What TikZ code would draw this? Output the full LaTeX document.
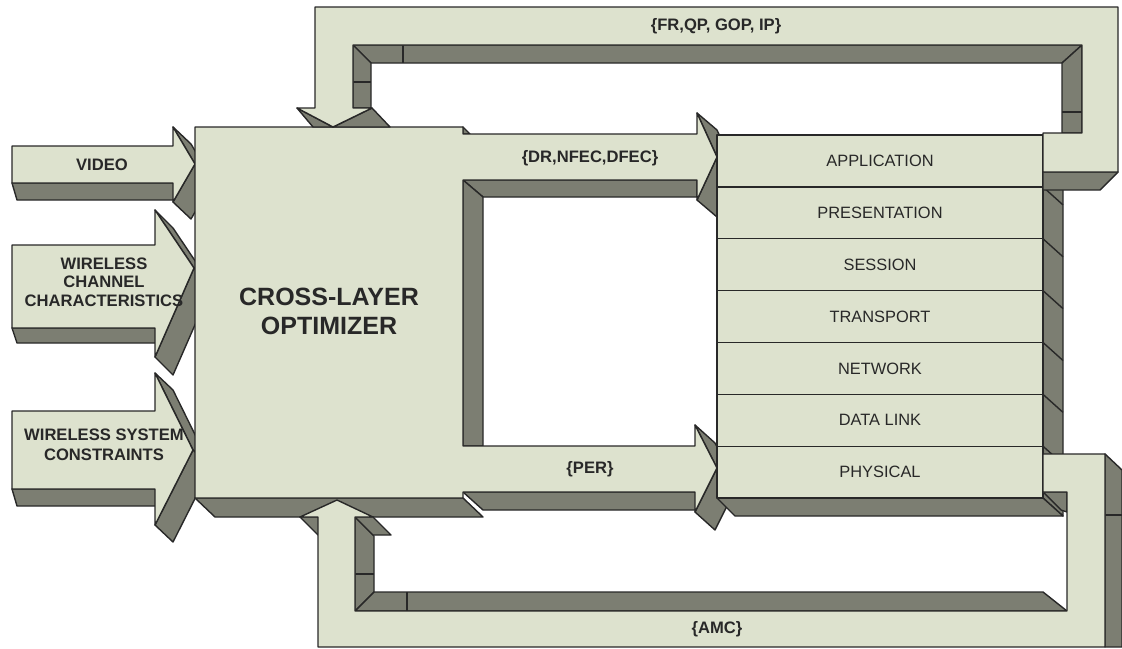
\documentclass[tikz,border=0pt]{standalone}
\usepackage{fontspec}
\setmainfont{Liberation Sans}
\usetikzlibrary{positioning}
\definecolor{facecol}{RGB}{221,226,206}
\definecolor{sidecol}{RGB}{124,126,114}
\definecolor{inkcol}{RGB}{40,40,40}

\begin{document}
\begin{tikzpicture}[x=0.5pt,y=-0.5pt,
    face/.style={fill=facecol,draw=inkcol,line width=0.7pt,line join=round},
    side/.style={fill=sidecol,draw=inkcol,line width=0.7pt,line join=round},
    seam/.style={draw=inkcol,line width=0.7pt},
    lbl/.style={font=\bfseries\fontsize{8.3}{9.3}\selectfont,align=center,
      inner sep=0pt,text=inkcol},
    layer/.style={face,minimum width=163pt,minimum height=25.93pt,
      outer sep=0pt,inner sep=0pt,font=\fontsize{8.2}{9}\selectfont,text=inkcol}]

  \useasboundingbox (0,0) rectangle (1122,648);

  % Input arrows on the left
  \filldraw[side] (12,183) -- (173,183) -- (191,200) -- (17,200) -- cycle;
  \filldraw[side] (173,127) -- (195,164) -- (213,181) -- (191,144) -- cycle;
  \filldraw[side] (195,164) -- (173,202) -- (191,219) -- (213,181) -- cycle;
  \filldraw[face] (12,146) -- (173,146) -- (173,127) -- (195,164) -- (173,202)
    -- (173,183) -- (12,183) -- cycle;

  \filldraw[side] (12,328) -- (155,328) -- (173,343) -- (17,343) -- cycle;
  \filldraw[side] (155,210) -- (194,268) -- (212,286) -- (173,228) -- cycle;
  \filldraw[side] (194,268) -- (155,357) -- (173,375) -- (212,286) -- cycle;
  \filldraw[face] (12,245) -- (155,245) -- (155,210) -- (194,268) -- (155,357)
    -- (155,328) -- (12,328) -- cycle;

  \filldraw[side] (12,489) -- (155,489) -- (173,506) -- (17,506) -- cycle;
  \filldraw[side] (155,373) -- (193,450) -- (211,467) -- (173,390) -- cycle;
  \filldraw[side] (193,450) -- (155,525) -- (173,542) -- (211,467) -- cycle;
  \filldraw[face] (12,411) -- (155,411) -- (155,373) -- (193,450) -- (155,525)
    -- (155,489) -- (12,489) -- cycle;

  % Optimizer with its two outgoing arrows
  \filldraw[side] (463,127) -- (470,134) -- (463,134) -- cycle;
  \filldraw[side] (463,180) -- (697,180) -- (697,197) -- (483,197) -- cycle;
  \filldraw[side] (697,113) -- (717,157) -- (737,174) -- (717,130) -- cycle;
  \filldraw[side] (717,157) -- (697,200) -- (717,217) -- (737,174) -- cycle;
  \filldraw[side] (463,180) -- (483,197) -- (483,446) -- (463,446) -- cycle;
  \filldraw[side] (463,492) -- (695,492) -- (715,510) -- (483,510) -- cycle;
  \filldraw[side] (195,498) -- (463,498) -- (483,517) -- (215,517) -- cycle;
  \filldraw[side] (695,425) -- (717,468) -- (737,486) -- (715,443) -- cycle;
  \filldraw[side] (717,468) -- (695,512) -- (715,530) -- (737,486) -- cycle;
  \filldraw[face] (195,127) -- (463,127) -- (463,134) -- (697,134) -- (697,113)
    -- (717,157) -- (697,200) -- (697,180) -- (463,180) -- (463,446)
    -- (695,446) -- (695,425) -- (717,468) -- (695,512) -- (695,492)
    -- (463,492) -- (463,498) -- (195,498) -- cycle;

  % Protocol stack
  \filldraw[side] (1043,135) -- (1063,153) -- (1063,516) -- (1043,498) -- cycle;
  \filldraw[side] (717,498) -- (1043,498) -- (1063,516) -- (735,516) -- cycle;
  \node[layer] (app) at (880,161) {APPLICATION};
  \node[layer,below=0pt of app] (pres) {PRESENTATION};
  \node[layer,below=0pt of pres] (sess) {SESSION};
  \node[layer,below=0pt of sess] (trans) {TRANSPORT};
  \node[layer,below=0pt of trans] (net) {NETWORK};
  \node[layer,below=0pt of net] (link) {DATA LINK};
  \node[layer,below=0pt of link] (phy) {PHYSICAL};
  \foreach \n in {app,pres,sess,trans,net,link}
    \draw[seam] (\n.south east) -- ++(20,18);

  % Feedback loop on top
  \filldraw[side] (353,45) -- (1082,45) -- (1062,63) -- (371,63) -- cycle;
  \filldraw[side] (353,45) -- (371,63) -- (371,108) -- (353,108) -- cycle;
  \filldraw[side] (1082,45) -- (1062,63) -- (1062,133) -- (1082,133) -- cycle;
  \filldraw[side] (1043,172) -- (1118,172) -- (1100,190) -- (1043,190) -- cycle;
  \filldraw[side] (297,108) -- (333,127) -- (313,127) -- cycle;
  \filldraw[side] (333,127) -- (372,108) -- (390,127) -- cycle;
  \draw[seam] (353,82) -- (371,82) (403,45) -- (403,63) (1062,112) -- (1082,112);
  \filldraw[face] (315,7) -- (1118,7) -- (1118,172) -- (1043,172) -- (1043,133)
    -- (1082,133) -- (1082,45) -- (353,45) -- (353,108) -- (372,108)
    -- (333,127) -- (297,108) -- (315,108) -- cycle;

  % Feedback loop at the bottom
  \filldraw[side] (1105,454) -- (1122,470) -- (1122,647) -- (1105,647) -- cycle;
  \filldraw[side] (1043,492) -- (1067,492) -- (1067,512) -- (1061,510) -- cycle;
  \filldraw[side] (355,517) -- (374,536) -- (374,592) -- (355,611) -- cycle;
  \filldraw[side] (355,611) -- (1067,611) -- (1043,592) -- (374,592) -- cycle;
  \filldraw[side] (300,517) -- (318,517) -- (336,535) -- (318,535) -- cycle;
  \filldraw[side] (355,517) -- (373,517) -- (391,535) -- (373,535) -- cycle;
  \draw[seam] (1105,515) -- (1122,515) (355,574) -- (374,574) (407,592) -- (407,611);
  \filldraw[face] (1043,454) -- (1105,454) -- (1105,647) -- (318,647) -- (318,517)
    -- (300,517) -- (337,500) -- (373,517) -- (355,517) -- (355,611)
    -- (1067,611) -- (1067,492) -- (1043,492) -- cycle;

  % Labels
  \node[lbl] (video) at (102,165) {VIDEO};
  \node[lbl,font=\bfseries\fontsize{8.3}{9.3}\selectfont] (chan) at (104,282)
    {WIRELESS\\CHANNEL\\CHARACTERISTICS};
  \node[lbl,font=\bfseries\fontsize{8.3}{10}\selectfont] (sys) at (104,445)
    {WIRELESS SYSTEM\\CONSTRAINTS};
  \node[lbl,font=\bfseries\fontsize{12.5}{14.5}\selectfont] (opt) at (329,311)
    {CROSS-LAYER\\OPTIMIZER};
  \node[lbl] (fr) at (716,26) {\{FR,QP, GOP, IP\}};
  \node[lbl] (dr) at (590,158) {\{DR,NFEC,DFEC\}};
  \node[lbl] (per) at (590,469) {\{PER\}};
  \node[lbl] (amc) at (717,629) {\{AMC\}};
\end{tikzpicture}
\end{document}
